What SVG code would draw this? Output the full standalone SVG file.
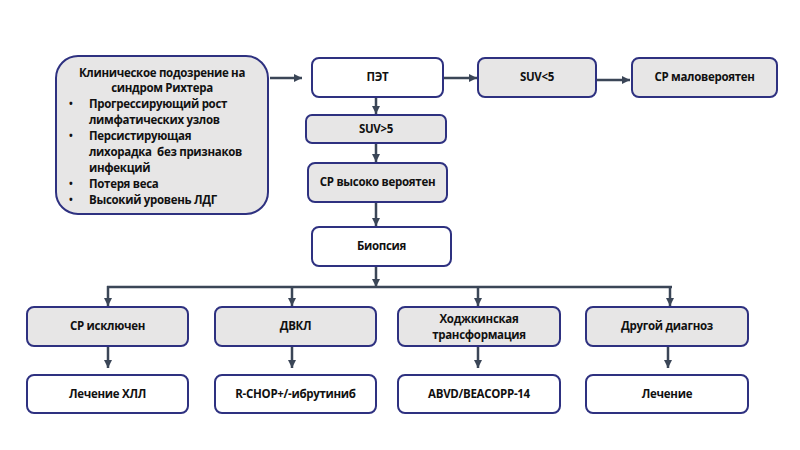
<svg xmlns="http://www.w3.org/2000/svg" width="800" height="450" viewBox="0 0 800 450">
<defs>
<marker id="ah" markerUnits="userSpaceOnUse" markerWidth="8" markerHeight="8" viewBox="0 0 8 8" refX="8" refY="4" orient="auto">
<path d="M0,0 L8,4 L0,8 Z" fill="#3B4657"/>
</marker>
<style>
.box{stroke:#2E3180;stroke-width:2}
.g{fill:#E7E6E6}
.w{fill:#FFFFFF}
.t{font-family:"Open Sans","DejaVu Sans",sans-serif;font-weight:700;font-size:11.5px;letter-spacing:-0.3px;fill:#111111}
.c{text-anchor:middle}
.b{font-size:10px}
.ln{stroke:#3B4657;stroke-width:2.5;fill:none}
</style>
</defs>
<rect width="800" height="450" fill="#FFFFFF"/>
<g id="connectors">
<line class="ln" x1="270" y1="78" x2="302" y2="78" marker-end="url(#ah)"/>
<line class="ln" x1="443" y1="78" x2="477" y2="78" marker-end="url(#ah)"/>
<line class="ln" x1="597" y1="80" x2="630" y2="80" marker-end="url(#ah)"/>
<line class="ln" x1="376" y1="98" x2="376" y2="114" marker-end="url(#ah)"/>
<line class="ln" x1="376" y1="144" x2="376" y2="162" marker-end="url(#ah)"/>
<line class="ln" x1="376" y1="202" x2="376" y2="226" marker-end="url(#ah)"/>
<line class="ln" x1="376" y1="267" x2="376" y2="287" marker-end="url(#ah)"/>
<line class="ln" x1="107" y1="287" x2="672" y2="287"/>
<line class="ln" x1="108" y1="286" x2="108" y2="306" marker-end="url(#ah)"/>
<line class="ln" x1="292" y1="286" x2="292" y2="306" marker-end="url(#ah)"/>
<line class="ln" x1="478" y1="286" x2="478" y2="306" marker-end="url(#ah)"/>
<line class="ln" x1="670" y1="286" x2="670" y2="306" marker-end="url(#ah)"/>
<line class="ln" x1="108" y1="347" x2="108" y2="368" marker-end="url(#ah)"/>
<line class="ln" x1="292" y1="347" x2="292" y2="368" marker-end="url(#ah)"/>
<line class="ln" x1="478" y1="347" x2="478" y2="368" marker-end="url(#ah)"/>
<line class="ln" x1="668" y1="347" x2="668" y2="368" marker-end="url(#ah)"/>
</g>
<g id="suspicion">
<rect class="box g" x="56" y="56" width="212" height="158" rx="22"/>
<text class="t c" x="162" y="77">Клиническое подозрение на</text>
<text class="t c" x="162" y="92">синдром Рихтера</text>
<text class="t b" x="69" y="107">•</text>
<text class="t" x="89" y="108">Прогрессирующий рост</text>
<text class="t" x="89" y="124">лимфатических узлов</text>
<text class="t b" x="69" y="139">•</text>
<text class="t" x="89" y="140">Персистирующая</text>
<text class="t" x="89" y="156" xml:space="preserve">лихорадка  без признаков</text>
<text class="t" x="89" y="172">инфекций</text>
<text class="t b" x="69" y="187">•</text>
<text class="t" x="89" y="188">Потеря веса</text>
<text class="t b" x="69" y="203">•</text>
<text class="t" x="89" y="204">Высокий уровень ЛДГ</text>
</g>
<g id="pet">
<rect class="box w" x="312" y="58" width="131" height="39" rx="7"/>
<text class="t c" x="377.5" y="81">ПЭТ</text>
</g>
<g id="suv-low">
<rect class="box g" x="478" y="58" width="118" height="39" rx="7"/>
<text class="t c" x="537" y="81">SUV&lt;5</text>
</g>
<g id="rs-unlikely">
<rect class="box g" x="632" y="58" width="145" height="39" rx="7"/>
<text class="t c" x="704.5" y="81">СР маловероятен</text>
</g>
<g id="suv-high">
<rect class="box g" x="306" y="115" width="140" height="28" rx="6"/>
<text class="t c" x="376" y="133">SUV&gt;5</text>
</g>
<g id="rs-likely">
<rect class="box g" x="308" y="163" width="139" height="39" rx="7"/>
<text class="t c" x="377.5" y="186">СР высоко вероятен</text>
</g>
<g id="biopsy">
<rect class="box w" x="312" y="227" width="139" height="39" rx="7"/>
<text class="t c" x="381.5" y="250">Биопсия</text>
</g>
<g id="rs-excluded">
<rect class="box g" x="27" y="307" width="161" height="39" rx="7"/>
<text class="t c" x="107.5" y="330">СР исключен</text>
</g>
<g id="dlbcl">
<rect class="box g" x="215" y="307" width="161" height="39" rx="7"/>
<text class="t c" x="295.5" y="330">ДВКЛ</text>
</g>
<g id="hodgkin">
<rect class="box g" x="398" y="307" width="162" height="39" rx="7"/>
<text class="t c" x="479" y="323">Ходжкинская</text>
<text class="t c" x="479" y="339">трансформация</text>
</g>
<g id="other">
<rect class="box g" x="586" y="307" width="162" height="39" rx="7"/>
<text class="t c" x="667" y="330">Другой диагноз</text>
</g>
<g id="cll-treatment">
<rect class="box w" x="27" y="375" width="161" height="38" rx="7"/>
<text class="t c" x="107.5" y="398">Лечение ХЛЛ</text>
</g>
<g id="rchop">
<rect class="box w" x="215" y="375" width="161" height="38" rx="7"/>
<text class="t c" x="295.5" y="398">R-CHOP+/-ибрутиниб</text>
</g>
<g id="abvd">
<rect class="box w" x="398" y="375" width="162" height="38" rx="7"/>
<text class="t c" x="479" y="398">ABVD/BEACOPP-14</text>
</g>
<g id="treatment">
<rect class="box w" x="586" y="375" width="162" height="38" rx="7"/>
<text class="t c" x="667" y="398">Лечение</text>
</g>
</svg>
